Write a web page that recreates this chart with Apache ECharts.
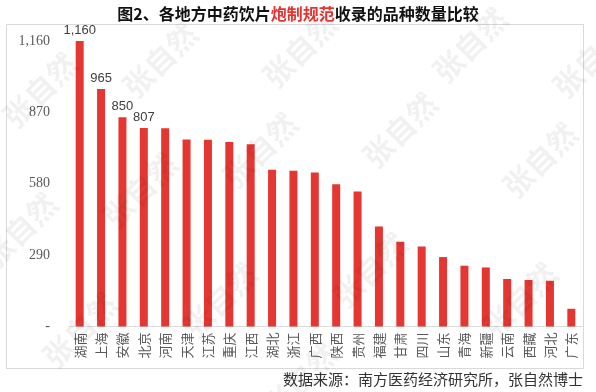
<!DOCTYPE html>
<html>
<head>
<meta charset="utf-8">
<script src="https://cdn.jsdelivr.net/npm/echarts@6/dist/echarts.min.js"></script>
<style>html,body{margin:0;padding:0;background:#fff;}#c{width:596px;height:392px;}</style>
</head>
<body>
<div id="c"></div>
<script>
var categories = ['湖南','上海','安徽','北京','河南','天津','江苏','重庆','江西','湖北','浙江','广西','陕西','贵州','福建','甘肃','四川','山东','青海','新疆','云南','西藏','河北','广东'];
var values = [1160,965,850,807,806,760,759,750,740,637,633,626,578,549,406,344,325,282,247,240,193,189,186,72];
var labeledCount = 4;
var yMax = 1160;
var yInterval = 290;

function fmt(v){ return v === 0 ? '-' : v.toString().replace(/\B(?=(\d{3})+(?!\d))/g, ','); }

var wm = [];
var wmPos = [[40,90],[160,60],[300,50],[470,45],[590,60],[20,230],[140,190],[260,150],[400,130],[540,160],[80,330],[220,300],[370,270],[520,300],[300,380]];
wmPos.forEach(function(p){
  wm.push({type:'text', x:p[0], y:p[1], rotation: Math.PI/4, z:100,
    style:{text:'张自然', fill:'rgba(0,0,0,0.055)', font:'bold 30px "Noto Sans CJK SC"', textAlign:'center', textVerticalAlign:'middle'}});
});

var chart = echarts.init(document.getElementById('c'), null, {renderer:'canvas'});
chart.setOption({
  animation:false,
  backgroundColor:'#fff',
  title:{
    text:'{b|图2、各地方中药饮片}{r|炮制规范}{b|收录的品种数量比较}',
    left:'center', top:1,
    textStyle:{rich:{
      b:{fontSize:16, fontWeight:'bold', color:'#111', fontFamily:'"Noto Sans CJK SC"'},
      r:{fontSize:16, fontWeight:'bold', color:'#e8322f', fontFamily:'"Noto Sans CJK SC"'}
    }}
  },
  graphic: [
    {type:'rect', shape:{x:6.5,y:24.5,width:577,height:344}, style:{fill:'none', stroke:'#d9d9d9', lineWidth:1}, z:-1},
    {type:'text', right:13, top:372, style:{text:'数据来源：南方医药经济研究所，张自然博士', fill:'#333', font:'15px "Noto Sans CJK SC", serif'}}
  ].concat(wm),
  grid:{left:69, right:14, top:41, bottom:65.5, containLabel:false},
  xAxis:{
    type:'category', data:categories,
    axisLine:{lineStyle:{color:'#d9d9d9'}},
    axisTick:{show:false},
    axisLabel:{interval:0, rotate:90, color:'#595959', fontSize:13, margin:6,
      fontFamily:'"Noto Sans CJK SC", sans-serif'}
  },
  yAxis:{
    type:'value', min:0, max:yMax, interval:yInterval,
    splitLine:{show:false}, axisLine:{show:false}, axisTick:{show:false},
    axisLabel:{color:'#595959', fontSize:14, margin:19, fontFamily:'"Liberation Serif", serif', formatter:fmt}
  },
  series:[{
    type:'bar', data:values, barWidth:8,
    itemStyle:{color:'#e53632'},
    label:{show:true, position:'top', distance:4, color:'#404040', fontSize:13, fontFamily:'"Liberation Sans", Arial, sans-serif',
      formatter:function(p){ return p.dataIndex < labeledCount ? fmt(p.value) : ''; }}
  }]
});
</script>
</body>
</html>
